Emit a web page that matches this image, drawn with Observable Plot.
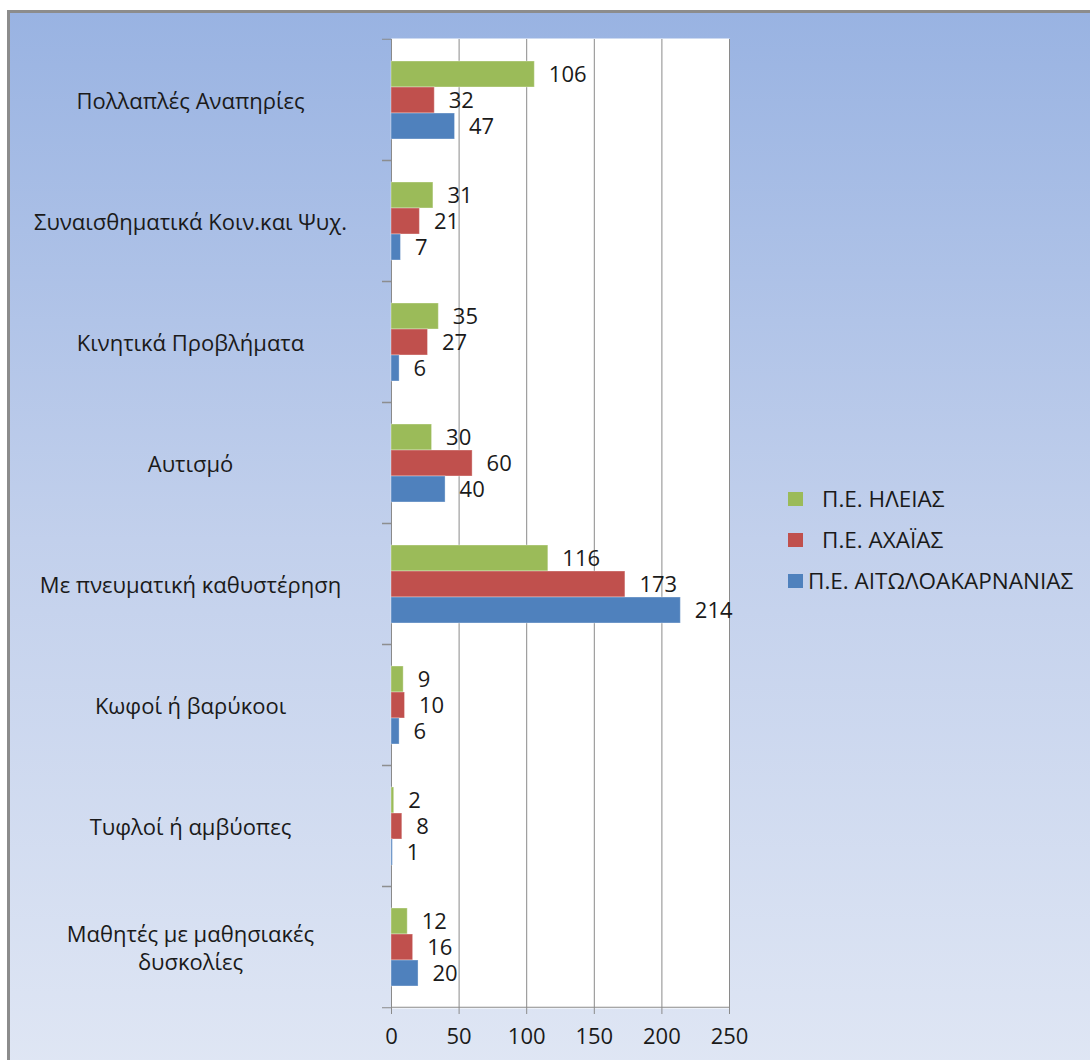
<!DOCTYPE html>
<html>
<head>
<meta charset="utf-8">
<script src="https://cdn.jsdelivr.net/npm/d3@7"></script>
<script src="https://cdn.jsdelivr.net/npm/@observablehq/plot@0.6"></script>
<style>
  html, body { margin: 0; padding: 0; background: #ffffff; }
  #wrap { position: relative; width: 1090px; height: 1060px; overflow: hidden; font-family: "Open Sans", sans-serif; }
  #bg { position: absolute; left: 7px; top: 10px; right: -6px; bottom: -6px;
        border-left: 3px solid #8c8c8c; border-top: 3px solid #8c8c8c;
        background: linear-gradient(to bottom, #99b3e2 0%, #c2d0ec 50%, #dfe6f4 100%); }
  #chart { position: absolute; left: 0; top: 0; }
  #legend { position: absolute; left: 788px; top: 478px; }
  .item { position: relative; height: 41px; display: flex; align-items: center; white-space: nowrap;
          font-size: 22.5px; line-height: 41px; color: #1a1a1a; }
  .sw { width: 15px; height: 14px; flex: none; }
</style>
</head>
<body>
<div id="wrap">
  <div id="bg"></div>
  <div id="chart"></div>
  <div id="legend"></div>
</div>
<script>
const categories = [
  "Πολλαπλές Αναπηρίες",
  "Συναισθηματικά Κοιν.και Ψυχ.",
  "Κινητικά Προβλήματα",
  "Αυτισμό",
  "Με πνευματική καθυστέρηση",
  "Κωφοί ή βαρύκοοι",
  "Τυφλοί ή αμβύοπες",
  "Μαθητές με μαθησιακές\nδυσκολίες"
];
const series = ["Π.Ε. ΗΛΕΙΑΣ", "Π.Ε. ΑΧΑΪΑΣ", "Π.Ε. ΑΙΤΩΛΟΑΚΑΡΝΑΝΙΑΣ"];
const ileias = [106, 31, 35, 30, 116, 9, 2, 12];
const achaias = [32, 21, 27, 60, 173, 10, 8, 16];
const aitoloakarnanias = [47, 7, 6, 40, 214, 6, 1, 20];
const xTicks = [0, 50, 100, 150, 200, 250];
const colors = ["#9bbb59", "#c0504d", "#4f81bd"];

const seriesValues = [ileias, achaias, aitoloakarnanias];
const rows = [];
categories.forEach((c, i) => {
  series.forEach((s, j) => rows.push({c, s, v: seriesValues[j][i]}));
});

const H = 1060, mt = 37, mb = 51;
const band = (H - mt - mb) / categories.length;
const gridColor = "#8a8a8a";
const fs = 22;

const chart = Plot.plot({
  width: 1090,
  height: H,
  marginLeft: 391,
  marginRight: 361,
  marginTop: mt,
  marginBottom: mb,
  style: { background: "transparent", fontFamily: "Open Sans, sans-serif", fontSize: fs + "px", color: "#1a1a1a" },
  x: { domain: [0, 250], label: null },
  fy: { domain: categories, padding: 0, label: null },
  y: { domain: series, paddingInner: 0, paddingOuter: 0.75, axis: null },
  color: { domain: series, range: colors },
  marks: [
    Plot.frame({ fill: "white", stroke: null, insetTop: -1, insetBottom: -1 }),
    Plot.gridX(xTicks, { stroke: gridColor, strokeOpacity: 1, strokeWidth: 1 }),
    Plot.barX(rows, { x: "v", y: "s", fy: "c", fill: "s", stroke: "#ffffff", strokeOpacity: 0.35, strokeWidth: 1 }),
    Plot.text(rows, { x: "v", y: "s", fy: "c", text: d => String(d.v), dx: 14, textAnchor: "start", fill: "#1a1a1a", fontSize: fs }),
    Plot.ruleY(rows.filter(d => d.c === categories[categories.length - 1] && d.s === series[2]),
      { y: "s", fy: "c", x1: 0, x2: 250, dy: band - (band / 4.5) * 3.25, stroke: gridColor }),
    Plot.axisX(xTicks, { anchor: "bottom", tickSize: 7, tickPadding: 14, stroke: gridColor, fill: "#1a1a1a", fontSize: fs, label: null }),
    Plot.axisFy({ anchor: "left", tickSize: 0, tickPadding: 201, textAnchor: "middle", lineHeight: 1.3, fontSize: fs, fill: "#1a1a1a", label: null }),
    Plot.axisFy({ anchor: "left", tickSize: 9, tickFormat: () => "", dy: -band / 2, stroke: gridColor, label: null }),
    Plot.axisFy([categories[categories.length - 1]], { anchor: "left", tickSize: 9, tickFormat: () => "", dy: band / 2, stroke: gridColor, label: null })
  ]
});
document.getElementById("chart").appendChild(chart);

const legend = d3.select("#legend");
const textGap = [19, 19, 5];
series.forEach((s, j) => {
  const item = legend.append("div").attr("class", "item");
  item.append("div").attr("class", "sw").style("background", colors[j]);
  item.append("span").style("margin-left", textGap[j] + "px").text(s);
});
</script>
</body>
</html>
